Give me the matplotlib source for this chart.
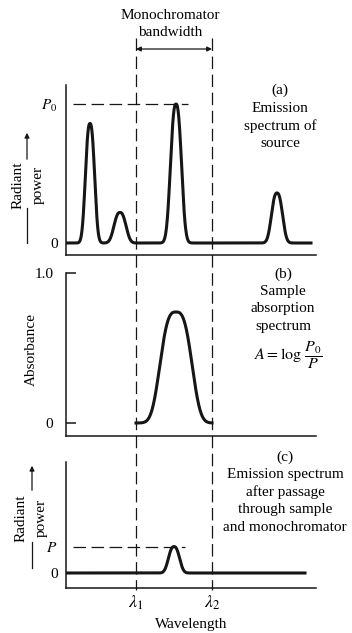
import numpy as np
import matplotlib.pyplot as plt
from matplotlib.lines import Line2D
from matplotlib.patches import FancyArrowPatch
from matplotlib import transforms

plt.rcParams['font.family'] = ['Liberation Serif', 'DejaVu Serif']
plt.rcParams['mathtext.fontset'] = 'stix'
plt.rcParams['font.size'] = 11
plt.rcParams['lines.scale_dashes'] = False

W, H = 352, 633
INK = '#161616'
LS = 1.42  # line spacing of the stacked captions

# wavelength in arbitrary units, 0 = left axis
lambda_pos = [70, 146]
lambda_labels = [r'$\lambda_1$', r'$\lambda_2$']

# (a) source emission lines, radiant power in units of P0
src_center = [24, 54, 110, 211]
src_height = [0.86, 0.22, 1.0, 0.36]
src_fwhm = [10, 13, 12, 12]
src_extent = (0, 245)

# (b) sample absorption band
abs_center = 110
abs_height = 0.74
abs_fwhm = 33

# (c) what is left after sample + monochromator
out_center = 108
out_height = 0.19
out_fwhm = 12
out_extent = (0, 239)


def box(left, top, right, bottom):
    ''' Axes rectangle from pixel edges. '''
    return [left / W, 1 - bottom / H, (right - left) / W, (bottom - top) / H]


def fy(y):
    return 1 - y / H


def peak(x, c, h, fwhm, p=2.5):
    ''' Slightly flat-topped line shape. '''
    return h * np.exp(-np.log(2) * np.abs(2 * (x - c) / fwhm) ** p)


def style(ax):
    for s in ['top', 'right']:
        ax.spines[s].set_visible(False)
    for s in ['left', 'bottom']:
        ax.spines[s].set_linewidth(1.1)
        ax.spines[s].set_color(INK)
    ax.set_xlim(0, 250)
    ax.set_xticks([])
    ax.patch.set_alpha(0)


def ylabel(x_rad, x_pow, x_arr, yc, tip, top, low0, low1):
    ''' Two-line rotated "Radiant power" label with its arrow. '''
    fig.text(x_rad / W, fy(yc), 'Radiant', rotation=90, ha='center', va='center')
    fig.text(x_pow / W, fy(yc), 'power', rotation=90, ha='center', va='center')
    fig.add_artist(Line2D([x_arr / W] * 2, [fy(low0), fy(low1)], color=INK, lw=0.9))
    fig.add_artist(FancyArrowPatch(
        (x_arr / W, fy(top)), (x_arr / W, fy(tip)), transform=fig.transFigure,
        arrowstyle='-|>', mutation_scale=7, lw=0.9, color=INK))


fig = plt.figure(figsize=(W / 100, H / 100), dpi=100)
dash = (0, (9, 4))

# ---- (a) emission spectrum of source
ax_a = fig.add_axes(box(66, 85, 316, 255))
style(ax_a)
ax_a.set_ylim(-12 / 139, 158 / 139)
x = np.linspace(*src_extent, 1200)
y = sum(peak(x, c, h, w) for c, h, w in zip(src_center, src_height, src_fwhm))
ax_a.plot(x, y, color=INK, lw=2.2)
ax_a.hlines(max(src_height), 7, 122, colors=INK, lw=0.9, linestyles=[dash])
ax_a.set_yticks([0, max(src_height)])
ax_a.set_yticklabels(['0', r'$P_0$'])
ax_a.tick_params(axis='y', length=0, pad=6)
fig.text(280 / W, fy(117), '(a)\nEmission\nspectrum of\nsource',
         ha='center', va='center', linespacing=LS)
ylabel(18, 38, 27, 185, 130, 162, 208, 243)

# ---- (b) sample absorption spectrum
ax_b = fig.add_axes(box(66, 273, 316, 436))
style(ax_b)
ax_b.set_ylim(-13 / 150, 1.0)
xb = np.linspace(lambda_pos[0], lambda_pos[1], 600)
ax_b.plot(xb, peak(xb, abs_center, abs_height, abs_fwhm, p=3), color=INK, lw=2.2)
ax_b.set_yticks([0, 1.0])
ax_b.set_yticklabels(['0', '1.0'])
ax_b.tick_params(axis='y', direction='in', length=7, width=1.1, pad=9, color=INK)
fig.text(31 / W, fy(350), 'Absorbance', rotation=90, ha='center', va='center')
fig.text(283 / W, fy(300), '(b)\nSample\nabsorption\nspectrum',
         ha='center', va='center', linespacing=LS)
fig.text(288 / W, fy(355), r'$A = \log\,\dfrac{P_0}{P}$', ha='center', va='center',
         fontsize=11.5)

# ---- (c) after sample and monochromator
ax_c = fig.add_axes(box(66, 462, 316, 588))
style(ax_c)
ax_c.set_ylim(-15 / 139, 111 / 139)
xc = np.linspace(*out_extent, 1200)
ax_c.plot(xc, peak(xc, out_center, out_height, out_fwhm), color=INK, lw=2.2)
ax_c.hlines(out_height, 7, 119, colors=INK, lw=0.9, linestyles=[dash])
ax_c.set_yticks([0, out_height])
ax_c.set_yticklabels(['0', r'$P$'])
ax_c.tick_params(axis='y', length=0, pad=6)
ax_c.set_xticks(lambda_pos)
ax_c.set_xticklabels(lambda_labels)
ax_c.tick_params(axis='x', length=0, pad=4, labelsize=13)
ax_c.set_xlabel('Wavelength', labelpad=4)
fig.text(285 / W, fy(492), '(c)\nEmission spectrum\nafter passage\nthrough sample\nand monochromator',
         ha='center', va='center', linespacing=LS)
ylabel(21, 41, 32, 518, 463, 493, 542, 568)

# ---- monochromator window, shared by all panels
trans = transforms.blended_transform_factory(ax_a.transData, fig.transFigure)
for lam in lambda_pos:
    fig.add_artist(Line2D([lam, lam], [fy(38), fy(590)], transform=trans,
                          color=INK, lw=0.9, ls=dash))
ax_a.annotate('', xy=(lambda_pos[1], fy(49)), xytext=(lambda_pos[0], fy(49)),
              xycoords=trans, textcoords=trans, annotation_clip=False,
              arrowprops=dict(arrowstyle='<|-|>', mutation_scale=7, lw=0.9,
                              color=INK, shrinkA=0, shrinkB=0))
fig.text(170 / W, fy(24), 'Monochromator\nbandwidth', ha='center', va='center',
         linespacing=LS)

fig.savefig('out.png', dpi=100)
